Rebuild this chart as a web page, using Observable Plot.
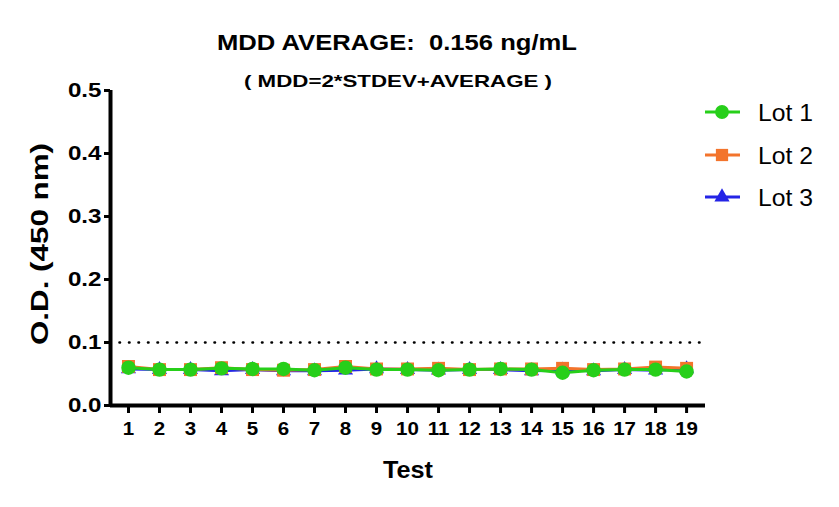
<!DOCTYPE html>
<html>
<head>
<meta charset="utf-8">
<script src="https://cdn.jsdelivr.net/npm/d3@7"></script>
<script src="https://cdn.jsdelivr.net/npm/@observablehq/plot@0.6"></script>
<style>
  body { margin: 0; background: #fff; font-family: "Liberation Sans", Arial, sans-serif; }
</style>
</head>
<body>
<div id="chart"></div>
<script>
const tests = [1,2,3,4,5,6,7,8,9,10,11,12,13,14,15,16,17,18,19];
const lot1 = [0.060,0.057,0.057,0.059,0.058,0.058,0.056,0.060,0.057,0.057,0.056,0.057,0.058,0.057,0.052,0.056,0.057,0.057,0.054];
const lot2 = [0.062,0.057,0.057,0.060,0.057,0.056,0.057,0.062,0.058,0.058,0.059,0.057,0.058,0.058,0.059,0.057,0.058,0.061,0.059];
const lot3 = [0.058,0.057,0.057,0.055,0.057,0.055,0.055,0.056,0.058,0.057,0.056,0.057,0.057,0.055,0.056,0.055,0.057,0.056,0.058];
const seriesNames = ["Lot 1","Lot 2","Lot 3"];
const seriesColors = ["#27cf1a","#f3742c","#2424e6"];
const seriesSymbols = ["circle","square","triangle"];
const mddLine = 0.1;
const yTicks = [0.0,0.1,0.2,0.3,0.4,0.5];
const titleText = "MDD AVERAGE:  0.156 ng/mL";
const subtitleText = "( MDD=2*STDEV+AVERAGE )";
const xLabel = "Test";
const yLabel = "O.D. (450 nm)";

const values = [lot1, lot2, lot3];
const rows = s => tests.map((t,i) => ({test:t, od: values[s][i]}));
const symR = [7.2, 7.3, 5.6];

const marks = [];
marks.push(Plot.ruleY([mddLine], {x1:0.42, x2:19.5, stroke:"#000", strokeWidth:2.6, strokeDasharray:"0.5,9", strokeLinecap:"round"}));
for (const s of [2,1,0]) {
  marks.push(Plot.line(rows(s), {x:"test", y:"od", stroke:seriesColors[s], strokeWidth:3}));
  marks.push(Plot.dot(rows(s), {x:"test", y:"od", fill:seriesColors[s], symbol:()=>seriesSymbols[s], r:symR[s], stroke:"none"}));
}
marks.push(Plot.ruleX([0.42], {stroke:"#000", strokeWidth:4}));
marks.push(Plot.ruleY([0], {stroke:"#000", strokeWidth:4}));
marks.push(Plot.axisY({ticks:yTicks, tickFormat:d3.format(".1f"), tickSize:6, tickPadding:3, strokeWidth:3, fontSize:19.5, fontWeight:"bold", label:null}));
marks.push(Plot.axisX({ticks:tests, tickFormat:d=>String(d), tickSize:8, tickPadding:8, strokeWidth:3, fontSize:19, fontWeight:"bold", label:null}));

const chart = Plot.plot({
  width: 839,
  height: 507,
  marginLeft: 110,
  marginRight: 134,
  marginTop: 90,
  marginBottom: 102,
  style: {fontFamily: "'Liberation Sans', Arial, sans-serif", color:"#000", background:"#fff"},
  x: {domain:[0.42, 19.61]},
  y: {domain:[0, 0.5]},
  marks
});
document.getElementById("chart").appendChild(chart);

const svg = d3.select(chart);
svg.selectAll('g[aria-label="y-axis tick label"] text').each(function(){
  const t = d3.select(this); t.attr("transform", (t.attr("transform")||"") + " scale(1.24,1)");
});
svg.selectAll('g[aria-label="x-axis tick label"] text').each(function(){
  const t = d3.select(this); t.attr("transform", (t.attr("transform")||"") + " scale(1.08,1)");
});

function addText(x, y, str, size, weight, anchor, len, rot) {
  const t = svg.append("text")
    .attr("font-size", size).attr("font-weight", weight).attr("fill", "#000")
    .attr("text-anchor", anchor).attr("font-family", "'Liberation Sans', Arial, sans-serif")
    .attr("lengthAdjust", "spacingAndGlyphs").attr("textLength", len).text(str);
  if (rot) t.attr("transform", `translate(${x},${y}) rotate(${rot})`);
  else t.attr("x", x).attr("y", y);
  return t;
}
addText(397, 50, titleText, 22.5, "bold", "middle", 360);
addText(398, 87, subtitleText, 17, "bold", "middle", 308);
addText(408, 478, xLabel, 23, "bold", "middle", 50);
addText(48, 244, yLabel, 24.5, "bold", "middle", 202, -90);

// legend
const legY = [112, 155, 197];
seriesNames.forEach((n, i) => {
  const g = svg.append("g");
  const y = legY[i];
  g.append("line").attr("x1", 705).attr("x2", 740).attr("y1", y).attr("y2", y)
    .attr("stroke", seriesColors[i]).attr("stroke-width", 3);
  g.append("path").attr("transform", `translate(722,${y})`)
    .attr("d", d3.symbol(i===0 ? d3.symbolCircle : i===1 ? d3.symbolSquare : d3.symbolTriangle, i===2 ? 100 : 150)())
    .attr("fill", seriesColors[i]);
  addText(758, y + 9, n, 23.5, "normal", "start", 55);
});
</script>
</body>
</html>
